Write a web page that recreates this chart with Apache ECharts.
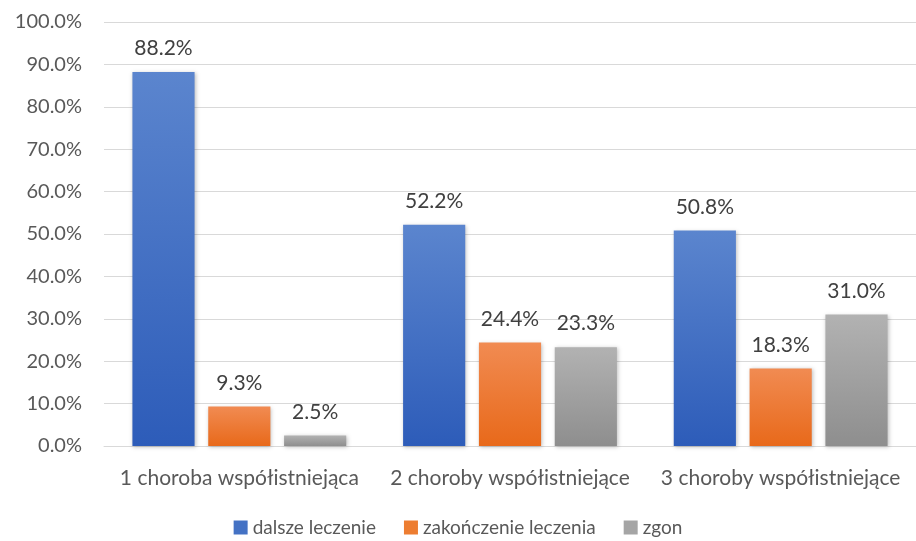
<!DOCTYPE html>
<html>
<head>
<meta charset="utf-8">
<script src="https://cdn.jsdelivr.net/npm/echarts@6/dist/echarts.min.js"></script>
<style>html,body{margin:0;padding:0;background:#fff}#c{width:916px;height:541px}</style>
</head>
<body>
<div id="c"></div>
<script>
const categories = ['1 choroba współistniejąca', '2 choroby współistniejące', '3 choroby współistniejące'];
const seriesNames = ['dalsze leczenie', 'zakończenie leczenia', 'zgon'];
const dalszeLeczenie = [88.2, 52.2, 50.8];
const zakonczenieLeczenia = [9.3, 24.4, 18.3];
const zgon = [2.5, 23.3, 31.0];

const FONT = 'Lato, "Open Sans", sans-serif';
const TXT = '#595959';

function grad(top, bottom) {
  return new echarts.graphic.LinearGradient(0, 0, 0, 1, [
    { offset: 0, color: top },
    { offset: 1, color: bottom }
  ]);
}

function bar(name, data, top, bottom) {
  return {
    name: name,
    type: 'bar',
    data: data,
    barGap: '22%',
    barCategoryGap: '21%',
    itemStyle: {
      color: grad(top, bottom),
      shadowColor: 'rgba(0,0,0,0.25)',
      shadowBlur: 4,
      shadowOffsetX: 1,
      shadowOffsetY: 1
    },
    label: {
      show: true,
      position: 'top',
      distance: 13,
      formatter: p => p.value.toFixed(1) + '%',
      fontFamily: FONT,
      fontSize: 21,
      color: '#404040'
    }
  };
}

const chart = echarts.init(document.getElementById('c'));
chart.setOption({
  animation: false,
  grid: { left: 104, right: 0, top: 22, bottom: 95 },
  legend: {
    top: 513,
    left: 'center',
    itemWidth: 14,
    itemHeight: 14,
    itemGap: 28,
    icon: 'rect',
    textStyle: { fontFamily: FONT, fontSize: 19, color: TXT },
    data: [
      { name: seriesNames[0], itemStyle: { color: '#4472C4' } },
      { name: seriesNames[1], itemStyle: { color: '#ED7D31' } },
      { name: seriesNames[2], itemStyle: { color: '#A5A5A5' } }
    ]
  },
  xAxis: {
    type: 'category',
    data: categories,
    axisLine: { lineStyle: { color: '#D9D9D9', width: 1 } },
    axisTick: { show: false },
    axisLabel: { fontFamily: FONT, fontSize: 21, color: TXT, margin: 22, interval: 0 }
  },
  yAxis: {
    type: 'value',
    min: 0,
    max: 100,
    interval: 10,
    axisLine: { show: false },
    axisTick: { show: false },
    splitLine: { lineStyle: { color: '#D9D9D9', width: 1 } },
    axisLabel: {
      fontFamily: FONT, fontSize: 20, color: TXT, margin: 22,
      formatter: v => v.toFixed(1) + '%'
    }
  },
  series: [
    bar(seriesNames[0], dalszeLeczenie, '#5B85CE', '#2D5CB9'),
    bar(seriesNames[1], zakonczenieLeczenia, '#F18B52', '#E8691A'),
    bar(seriesNames[2], zgon, '#B2B2B2', '#8E8E8E')
  ]
});
</script>
</body>
</html>
